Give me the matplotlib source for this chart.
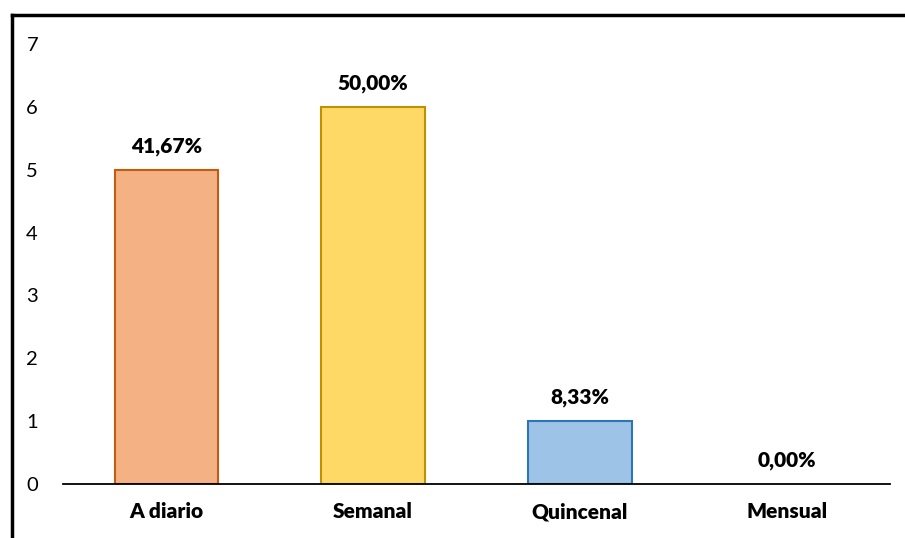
import matplotlib.pyplot as plt
from matplotlib.lines import Line2D

# Data
categorias = ["A diario", "Semanal", "Quincenal", "Mensual"]
valores = [5, 6, 1, 0]
porcentajes = ["41,67%", "50,00%", "8,33%", "0,00%"]
relleno = ["#F4B183", "#FFD966", "#9DC3E6", "#FFFFFF"]
borde = ["#C55A11", "#BF9000", "#2E75B6", "#FFFFFF"]

plt.rcParams["font.family"] = ["Lato", "DejaVu Sans"]

fig = plt.figure(figsize=(9.05, 5.38), dpi=100)
ax = fig.add_axes([63 / 905, 1 - 484 / 538, 827 / 905, 440 / 538])

x = range(len(categorias))
ax.bar(x, valores, width=0.5, color=relleno, edgecolor=borde, linewidth=1.5, zorder=2)

for i, v in enumerate(valores):
    ax.annotate(porcentajes[i], (i, v), xytext=(0, 10), textcoords="offset points",
                ha="center", va="bottom", fontsize=15, fontweight="heavy")

ax.set_xlim(-0.5, 3.5)
ax.set_ylim(0, 7)
ax.set_yticks(range(8))
ax.set_xticks(list(x))
ax.set_xticklabels(categorias, fontsize=15, fontweight="heavy")
ax.tick_params(axis="y", length=0, pad=18, labelsize=14.5)
ax.tick_params(axis="x", length=0, pad=13)
for s in ["top", "right", "left"]:
    ax.spines[s].set_visible(False)
ax.spines["bottom"].set_linewidth(1.3)
ax.spines["bottom"].set_zorder(3)

# outer frame (cut off at right and bottom)
x0, y0 = 12 / 905, 1 - 15 / 538
fig.add_artist(Line2D([x0, x0], [0, y0], color="black", linewidth=2.5, transform=fig.transFigure))
fig.add_artist(Line2D([x0, 1], [y0, y0], color="black", linewidth=2.5, transform=fig.transFigure))

fig.savefig("out.png", dpi=100)
